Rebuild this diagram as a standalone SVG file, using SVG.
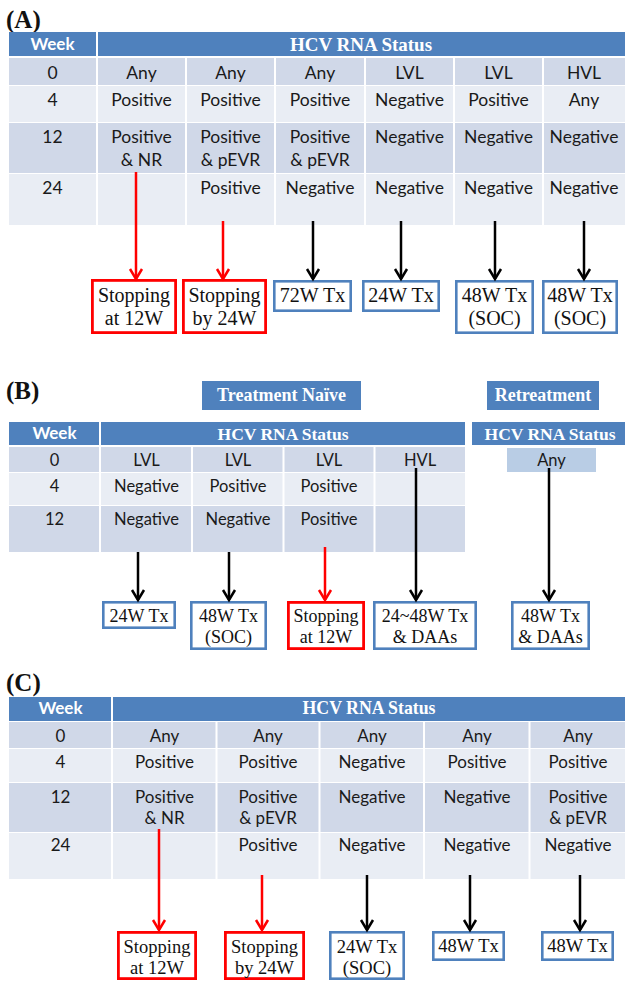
<svg xmlns="http://www.w3.org/2000/svg" width="625" height="982" viewBox="0 0 625 982">
<defs>
<style>
.hd{fill:#4F81BD}
.dk{fill:#D0D8E8}
.lt{fill:#E9EDF4}
.sep{stroke:#FFFFFF;stroke-width:2;fill:none}
.lbl{font-family:"Liberation Serif","Times New Roman",serif;font-weight:bold;font-size:25px;fill:#111}
.hs{font-family:"Liberation Serif","Times New Roman",serif;font-weight:bold;fill:#FFFFFF;text-anchor:middle}
.wk{font-family:Lato,"Liberation Sans",sans-serif;font-weight:bold;fill:#FFFFFF;text-anchor:middle;font-size:17px}
.c{font-family:Lato,"Liberation Sans",sans-serif;fill:#1a1a1a;text-anchor:middle}
.ca{font-size:17.5px}
.cb{font-size:16.5px}
.cc{font-size:17px}
.bx{font-family:"Liberation Serif","Times New Roman",serif;fill:#111;text-anchor:middle}
.rb{fill:#FFFFFF;stroke:#FF0000;stroke-width:2.8}
.bb{fill:#FFFFFF;stroke:#4F81BD;stroke-width:2.6}
.ar{stroke:#FF0000;stroke-width:2.5;fill:none}
.ak{stroke:#000000;stroke-width:2.5;fill:none}
</style>
<marker id="mr" markerUnits="userSpaceOnUse" markerWidth="16" markerHeight="18" viewBox="-3 -9 16 18" refX="10" refY="0" orient="auto" overflow="visible">
<path d="M0,-6 L10,0 L0,6" fill="none" stroke="#FF0000" stroke-width="2.5"/>
</marker>
<marker id="mk" markerUnits="userSpaceOnUse" markerWidth="16" markerHeight="18" viewBox="-3 -9 16 18" refX="10" refY="0" orient="auto" overflow="visible">
<path d="M0,-6 L10,0 L0,6" fill="none" stroke="#000000" stroke-width="2.5"/>
</marker>
</defs>
<rect x="0" y="0" width="625" height="982" fill="#FFFFFF"/>

<!-- Panel A -->
<g id="panelA-label"><text class="lbl" x="6" y="28">(A)</text></g>
<g id="tableA">
<rect class="hd" x="9" y="32" width="616" height="24"/>
<rect class="dk" x="9" y="58" width="616" height="27"/>
<rect class="lt" x="9" y="86" width="616" height="36"/>
<rect class="dk" x="9" y="123" width="616" height="50"/>
<rect class="lt" x="9" y="174" width="616" height="51"/>
<path class="sep" d="M97,32V225 M186,57V225 M275,57V225 M365,57V225 M454,57V225 M543,57V225"/>
<text class="wk" x="52.5" y="50">Week</text>
<text class="hs" x="361" y="51" font-size="19">HCV RNA Status</text>
<g class="c ca">
<text x="52.5" y="79">0</text><text x="141.5" y="79">Any</text><text x="230.5" y="79">Any</text><text x="320" y="79">Any</text><text x="409.5" y="79">LVL</text><text x="498.5" y="79">LVL</text><text x="584" y="79">HVL</text>
<text x="52.5" y="106">4</text><text x="141.5" y="106">Positive</text><text x="230.5" y="106">Positive</text><text x="320" y="106">Positive</text><text x="409.5" y="106">Negative</text><text x="498.5" y="106">Positive</text><text x="584" y="106">Any</text>
<text x="52.5" y="143">12</text><text x="141.5" y="143">Positive</text><text x="230.5" y="143">Positive</text><text x="320" y="143">Positive</text><text x="409.5" y="143">Negative</text><text x="498.5" y="143">Negative</text><text x="584" y="143">Negative</text>
<text x="141.5" y="166">&amp; NR</text><text x="230.5" y="166">&amp; pEVR</text><text x="320" y="166">&amp; pEVR</text>
<text x="52.5" y="194">24</text><text x="230.5" y="194">Positive</text><text x="320" y="194">Negative</text><text x="409.5" y="194">Negative</text><text x="498.5" y="194">Negative</text><text x="584" y="194">Negative</text>
</g>
</g>
<g id="A-stop12"><rect class="rb" x="92.4" y="280.4" width="83.2" height="52.2"/><text class="bx" font-size="20" x="134" y="302">Stopping</text><text class="bx" font-size="20" x="134" y="325">at 12W</text></g>
<g id="A-stop24"><rect class="rb" x="183.4" y="280.4" width="82.2" height="52.2"/><text class="bx" font-size="20" x="224.5" y="302">Stopping</text><text class="bx" font-size="20" x="224.5" y="325">by 24W</text></g>
<g id="A-72w"><rect class="bb" x="274.3" y="281.3" width="76.4" height="29.4"/><text class="bx" font-size="20" x="312.5" y="302">72W Tx</text></g>
<g id="A-24w"><rect class="bb" x="363.3" y="281.3" width="75.4" height="29.4"/><text class="bx" font-size="20" x="401" y="302">24W Tx</text></g>
<g id="A-48w1"><rect class="bb" x="456.3" y="281.3" width="76.4" height="51.4"/><text class="bx" font-size="20" x="494.5" y="302">48W Tx</text><text class="bx" font-size="20" x="494.5" y="325">(SOC)</text></g>
<g id="A-48w2"><rect class="bb" x="543.3" y="281.3" width="73.4" height="51.4"/><text class="bx" font-size="20" x="580" y="302">48W Tx</text><text class="bx" font-size="20" x="580" y="325">(SOC)</text></g>

<!-- Panel B -->
<g id="panelB-label"><text class="lbl" x="6" y="399">(B)</text></g>
<g id="B-naive-title"><rect class="hd" x="202" y="381" width="159" height="29"/><text class="hs" x="281.5" y="401" font-size="18">Treatment Naïve</text></g>
<g id="B-retreat-title"><rect class="hd" x="487" y="381" width="112" height="29"/><text class="hs" x="543" y="401" font-size="18">Retreatment</text></g>
<g id="tableB">
<rect class="hd" x="9" y="422" width="456" height="23"/>
<rect class="dk" x="9" y="447" width="456" height="25"/>
<rect class="lt" x="9" y="473" width="456" height="32"/>
<rect class="dk" x="9" y="506" width="456" height="46"/>
<path class="sep" d="M100,422V552 M192,446V552 M283.5,446V552 M374.5,446V552"/>
<text class="wk" x="54.5" y="439">Week</text>
<text class="hs" x="283" y="440" font-size="17.5">HCV RNA Status</text>
<g class="c cb">
<text x="54.5" y="466">0</text><text x="146.5" y="466">LVL</text><text x="238" y="466">LVL</text><text x="329" y="466">LVL</text><text x="420" y="466">HVL</text>
<text x="54.5" y="492">4</text><text x="146.5" y="492">Negative</text><text x="238" y="492">Positive</text><text x="329" y="492">Positive</text>
<text x="54.5" y="525">12</text><text x="146.5" y="525">Negative</text><text x="238" y="525">Negative</text><text x="329" y="525">Positive</text>
</g>
</g>
<g id="tableB-retreat">
<rect class="hd" x="472" y="422" width="153" height="23"/>
<text class="hs" x="550" y="440" font-size="17.5">HCV RNA Status</text>
<rect x="507" y="448" width="89" height="24" fill="#B9CDE5"/>
<text class="c cb" x="551.5" y="466">Any</text>
</g>
<g id="B-24w"><rect class="bb" x="103.3" y="602.3" width="71.4" height="25.4"/><text class="bx" font-size="18" x="139" y="622">24W Tx</text></g>
<g id="B-48w"><rect class="bb" x="191.3" y="602.3" width="74.4" height="46.4"/><text class="bx" font-size="18" x="228.5" y="622">48W Tx</text><text class="bx" font-size="18" x="228.5" y="643">(SOC)</text></g>
<g id="B-stop12"><rect class="rb" x="288.4" y="602.4" width="75.2" height="46.2"/><text class="bx" font-size="18" x="326" y="622">Stopping</text><text class="bx" font-size="18" x="326" y="643">at 12W</text></g>
<g id="B-2448w"><rect class="bb" x="374.3" y="602.3" width="101.4" height="46.4"/><text class="bx" font-size="18" x="425" y="622">24~48W Tx</text><text class="bx" font-size="18" x="425" y="643">&amp; DAAs</text></g>
<g id="B-48wdaa"><rect class="bb" x="512.3" y="602.3" width="76.4" height="46.4"/><text class="bx" font-size="18" x="550.5" y="622">48W Tx</text><text class="bx" font-size="18" x="550.5" y="643">&amp; DAAs</text></g>

<!-- Panel C -->
<g id="panelC-label"><text class="lbl" x="6" y="691">(C)</text></g>
<g id="tableC">
<rect class="hd" x="9" y="697" width="616" height="24"/>
<rect class="dk" x="9" y="722" width="616" height="26"/>
<rect class="lt" x="9" y="749" width="616" height="33"/>
<rect class="dk" x="9" y="783" width="616" height="49"/>
<rect class="lt" x="9" y="833" width="616" height="46"/>
<path class="sep" d="M112,697V879 M216.5,721V879 M319.5,721V879 M424,721V879 M529.5,721V879"/>
<text class="wk" x="60.5" y="714">Week</text>
<text class="hs" x="369" y="714" font-size="17.8">HCV RNA Status</text>
<g class="c cc">
<text x="60.5" y="742">0</text><text x="164.5" y="742">Any</text><text x="268" y="742">Any</text><text x="372" y="742">Any</text><text x="477" y="742">Any</text><text x="578" y="742">Any</text>
<text x="60.5" y="768">4</text><text x="164.5" y="768">Positive</text><text x="268" y="768">Positive</text><text x="372" y="768">Negative</text><text x="477" y="768">Positive</text><text x="578" y="768">Positive</text>
<text x="60.5" y="803">12</text><text x="164.5" y="803">Positive</text><text x="268" y="803">Positive</text><text x="372" y="803">Negative</text><text x="477" y="803">Negative</text><text x="578" y="803">Positive</text>
<text x="164.5" y="824">&amp; NR</text><text x="268" y="824">&amp; pEVR</text><text x="578" y="824">&amp; pEVR</text>
<text x="60.5" y="851">24</text><text x="268" y="851">Positive</text><text x="372" y="851">Negative</text><text x="477" y="851">Negative</text><text x="578" y="851">Negative</text>
</g>
</g>
<g id="C-stop12"><rect class="rb" x="118.4" y="932.4" width="77.2" height="46.2"/><text class="bx" font-size="18.5" x="157" y="953">Stopping</text><text class="bx" font-size="18.5" x="157" y="974">at 12W</text></g>
<g id="C-stop24"><rect class="rb" x="225.4" y="932.4" width="78.2" height="46.2"/><text class="bx" font-size="18.5" x="264.5" y="953">Stopping</text><text class="bx" font-size="18.5" x="264.5" y="974">by 24W</text></g>
<g id="C-24w"><rect class="bb" x="330.3" y="932.3" width="73.4" height="46.4"/><text class="bx" font-size="18.5" x="367" y="953">24W Tx</text><text class="bx" font-size="18.5" x="367" y="974">(SOC)</text></g>
<g id="C-48w1"><rect class="bb" x="433.3" y="932.3" width="70.4" height="27.4"/><text class="bx" font-size="18.5" x="468.5" y="952">48W Tx</text></g>
<g id="C-48w2"><rect class="bb" x="542.3" y="932.3" width="70.4" height="27.4"/><text class="bx" font-size="18.5" x="577.5" y="952">48W Tx</text></g>

<!-- Connectors -->
<g id="connectors">
<path class="ar" d="M136,172V279" marker-end="url(#mr)"/>
<path class="ar" d="M223,221V279" marker-end="url(#mr)"/>
<path class="ak" d="M313,221V279" marker-end="url(#mk)"/>
<path class="ak" d="M401,221V279" marker-end="url(#mk)"/>
<path class="ak" d="M495,221V279" marker-end="url(#mk)"/>
<path class="ak" d="M584,221V279" marker-end="url(#mk)"/>

<path class="ak" d="M138,552V600" marker-end="url(#mk)"/>
<path class="ak" d="M229,552V600" marker-end="url(#mk)"/>
<path class="ar" d="M325,547V600" marker-end="url(#mr)"/>
<path class="ak" d="M416,468V600" marker-end="url(#mk)"/>
<path class="ak" d="M549,468V600" marker-end="url(#mk)"/>

<path class="ar" d="M159,829V930" marker-end="url(#mr)"/>
<path class="ar" d="M262,875V930" marker-end="url(#mr)"/>
<path class="ak" d="M367,875V930" marker-end="url(#mk)"/>
<path class="ak" d="M470,875V930" marker-end="url(#mk)"/>
<path class="ak" d="M580,875V930" marker-end="url(#mk)"/>
</g>
</svg>
